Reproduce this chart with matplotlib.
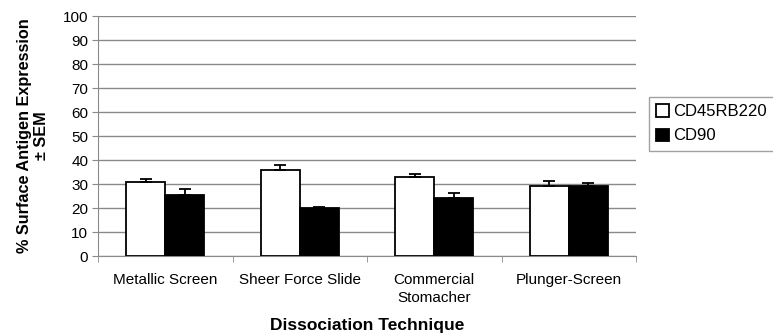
import numpy as np
import matplotlib.pyplot as plt

plt.rcParams['font.family'] = ['Liberation Sans', 'DejaVu Sans']

techniques = ["Metallic Screen", "Sheer Force Slide", "Commercial\nStomacher", "Plunger-Screen"]
cd45 = [30.7, 35.7, 32.9, 29.3]
cd45_sem = [1.4, 2.3, 1.1, 2.1]
cd90 = [25.4, 19.9, 24.0, 29.2]
cd90_sem = [2.5, 0.5, 2.1, 1.4]

fig = plt.figure(figsize=(7.73, 3.36), dpi=100)
ax = fig.add_axes([0.1268, 0.238, 0.696, 0.714])

x = np.arange(len(techniques))
w = 0.29
err_kw = dict(ecolor="black", capsize=4.5, elinewidth=1.3, capthick=1.3)
ax.bar(x - w / 2, cd45, w, color="white", edgecolor="black", linewidth=1.3,
       yerr=[np.zeros(4), cd45_sem], error_kw=err_kw, label="CD45RB220", zorder=3)
ax.bar(x + w / 2, cd90, w, color="black", edgecolor="black", linewidth=1.3,
       yerr=[np.zeros(4), cd90_sem], error_kw=err_kw, label="CD90", zorder=3)

ax.set_xlim(-0.5, 3.5)
ax.set_ylim(0, 100)
ax.set_yticks(np.arange(0, 101, 10))
ax.yaxis.grid(True, color="#8a8a8a", linewidth=1.0, zorder=0)
ax.set_axisbelow(True)

ax.set_xticks(x)
ax.set_xticklabels(techniques, fontsize=11, linespacing=1.35)
ax.set_xticks(np.arange(-0.5, 3.6, 1), minor=True)
ax.tick_params(axis="x", which="major", length=0, pad=12)
ax.tick_params(axis="x", which="minor", length=4, color="#8a8a8a")
ax.tick_params(axis="y", length=4, color="#8a8a8a", labelsize=11, pad=3)

for s in ["top", "right"]:
    ax.spines[s].set_visible(False)
ax.spines["left"].set_color("#8a8a8a")
ax.spines["bottom"].set_color("#8a8a8a")

ax.set_ylabel("% Surface Antigen Expression\n± SEM", fontsize=11.7, fontweight="bold", labelpad=10)
ax.set_xlabel("Dissociation Technique", fontsize=12.5, fontweight="bold", va="center")
ax.xaxis.set_label_coords(0.5, -0.29)

leg = fig.legend(loc="upper left", bbox_to_anchor=(0.839, 0.712), fontsize=12,
                 frameon=True, fancybox=False, edgecolor="#8a8a8a",
                 handlelength=0.75, handleheight=0.75, handletextpad=0.3,
                 borderpad=0.45, labelspacing=0.55, borderaxespad=0)
leg.get_frame().set_linewidth(1.0)

fig.savefig("out.png", dpi=100)
